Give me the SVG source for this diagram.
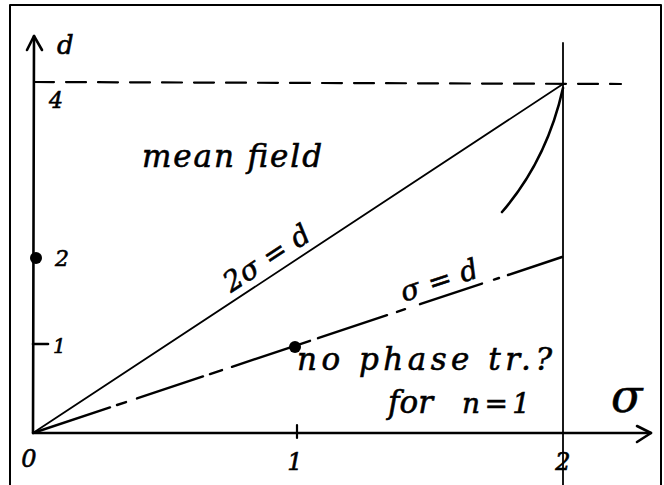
<svg xmlns="http://www.w3.org/2000/svg" width="664" height="485" viewBox="0 0 664 485">
<style>
.ln{fill:none;stroke:#000;stroke-linecap:round;stroke-linejoin:round}
.t{font-family:"DejaVu Serif","Liberation Serif",serif;font-style:italic;fill:#000;stroke:#000;stroke-width:0.6}
</style>
<rect width="664" height="485" fill="#fff"/>
<g id="frame">
<path class="ln" d="M10,486 L10,5 L661,5 L661,486" stroke-width="2"/>
</g>
<g id="axes">
<path class="ln" d="M34,36 L33,433 L651,433" stroke-width="2.6"/>
<path class="ln" d="M27,50 L34,36 L42,50" stroke-width="2.6"/>
<path class="ln" d="M637,426 L651,433 L637,442" stroke-width="2.6"/>
<path class="ln" d="M33,344 L48,344" stroke-width="2.6"/>
<path class="ln" d="M297,425 L297,438" stroke-width="2.2"/>
</g>
<g id="connectors">
<path class="ln" d="M34,82 L621,84" stroke-width="2.2" stroke-dasharray="20 12"/>
<path class="ln" d="M563,43 L563,486" stroke-width="1.8"/>
<path class="ln" d="M33,433 L563,84" stroke-width="1.8"/>
<path class="ln" d="M563,88 Q547,160 502,212" stroke-width="2.6"/>
<path class="ln" stroke-width="2.4" d="M33,433 L110,407.4 M117,405 L126,402.1 M137,398.4 L203,376.4 M210,374.1 L222,370.1 M232,366.8 L310,340.8 M318,338.2 L387,315.2 M397,311.9 L405,309.2 M420,304.2 L482,283.6 M494,279.6 L499,278 M508,275 L562,257"/>
</g>
<g id="points">
<circle cx="36" cy="258" r="6"/>
<circle cx="295" cy="347" r="6"/>
</g>
<g id="labels">
<text class="t" x="57" y="54" font-size="26">d</text>
<text class="t" x="49" y="108" font-size="22">4</text>
<text class="t" x="55" y="266" font-size="22">2</text>
<text class="t" x="53" y="353" font-size="20">1</text>
<text class="t" x="29" y="467" font-size="24" text-anchor="middle">0</text>
<text class="t" x="295" y="470" font-size="24" text-anchor="middle">1</text>
<text class="t" x="563" y="470" font-size="24" text-anchor="middle">2</text>
<text class="t" x="611" y="412" font-size="46">σ</text>
<text class="t" x="142" y="167" font-size="31" textLength="180">mean field</text>
<text class="t" x="297" y="370" font-size="31" textLength="255">no phase tr.?</text>
<text class="t" x="388" y="413" font-size="31">for</text>
<text class="t" x="462" y="413" font-size="28" textLength="68">n = 1</text>
<text class="t" font-size="28" textLength="98" transform="translate(231,293) rotate(-33.4)">2σ = d</text>
<text class="t" font-size="28" textLength="80" transform="translate(404,302) rotate(-18.4)">σ = d</text>
</g>
</svg>
